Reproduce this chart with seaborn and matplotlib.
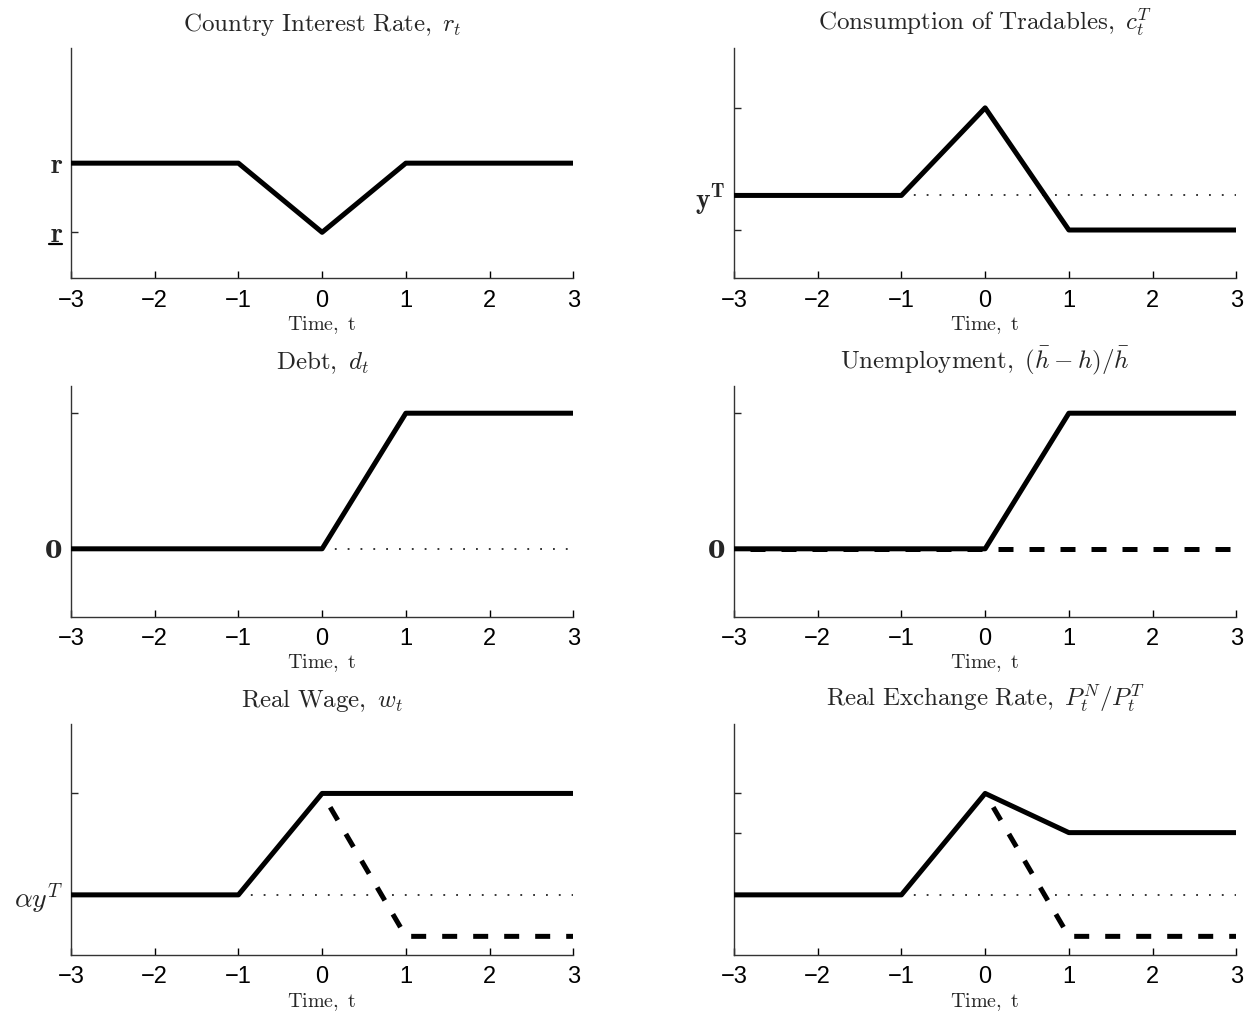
import matplotlib
matplotlib.use("Agg")
import matplotlib.pyplot as plt
import seaborn as sns

t = [-3, -2, -1, 0, 1, 2, 3]
t_adj = [0, 1, 2, 3]

interest = [1, 1, 1, 0.4, 1, 1, 1]
tradables = [0.36, 0.36, 0.36, 0.74, 0.21, 0.21, 0.21]
debt = [0, 0, 0, 0, 1, 1, 1]
unemp = [0, 0, 0, 0, 1, 1, 1]
unemp_flex = [0, 0, 0, 0, 0, 0, 0]
wage = [0.26, 0.26, 0.26, 0.70, 0.70, 0.70, 0.70]
wage_flex = [0.70, 0.08, 0.08, 0.08]
rer = [0.26, 0.26, 0.26, 0.70, 0.53, 0.53, 0.53]
rer_flex = [0.70, 0.08, 0.08, 0.08]

titles = [r"$\mathrm{Country\ Interest\ Rate,}$ $r_t$",
          r"$\mathrm{Consumption\ of\ Tradables,}$ $c_t^T$",
          r"$\mathrm{Debt,}$ $d_t$",
          r"$\mathrm{Unemployment,}$ $(\bar{h}-h)/\bar{h}$",
          r"$\mathrm{Real\ Wage,}$ $w_t$",
          r"$\mathrm{Real\ Exchange\ Rate,}$ $P_t^N/P_t^T$"]

sns.set_style("ticks")
plt.rcParams["font.family"] = ["Liberation Sans", "DejaVu Sans"]
plt.rcParams["mathtext.fontset"] = "cm"
plt.rcParams["xtick.direction"] = "in"
plt.rcParams["ytick.direction"] = "in"

fig, axes = plt.subplots(3, 2, figsize=(12.45, 10.19), dpi=100)
fig.subplots_adjust(left=0.057, right=0.993, top=0.953, bottom=0.063,
                    wspace=0.32, hspace=0.467)

LW = 3.6
DASH = (3, (3, 3.2))
DOT = (0, (1.2, 7.2))


def solid(ax, y):
    sns.lineplot(x=t, y=y, ax=ax, color="black", linewidth=LW, errorbar=None, zorder=3)


def dashed(ax, x, y):
    sns.lineplot(x=x, y=y, ax=ax, color="black", linewidth=LW, errorbar=None,
                 linestyle=DASH, zorder=4)


def dotted(ax, x0, level):
    sns.lineplot(x=[x0, 3], y=[level, level], ax=ax, color="black", linewidth=1.1,
                 errorbar=None, linestyle=DOT, zorder=2)


def style(ax, title, ylim, yticks, ylabels):
    ax.set_xlim(-3, 3)
    ax.set_ylim(*ylim)
    ax.set_xticks(t)
    ax.set_yticks(yticks)
    ax.set_yticklabels(ylabels)
    ax.tick_params(axis="x", labelsize=17, length=5, width=1, pad=8, colors="black")
    ax.tick_params(axis="y", labelsize=20, length=5, width=1, pad=6)
    for s in ["top", "right"]:
        ax.spines[s].set_visible(False)
    for s in ["left", "bottom"]:
        ax.spines[s].set_color("#333333")
        ax.spines[s].set_linewidth(1.0)
    ax.set_title(title, fontsize=18, pad=12.5)
    ax.set_xlabel(r"$\mathrm{Time,\ t}$", fontsize=14.5, labelpad=2)
    ax.set_ylabel("")


def bold_zero(ax):
    for lab in ax.get_yticklabels():
        if lab.get_text() == "0":
            lab.set_fontfamily("DejaVu Serif")
            lab.set_fontweight("bold")
            lab.set_fontsize(18)


a1, a2 = axes[0]
a3, a4 = axes[1]
a5, a6 = axes[2]

solid(a1, interest)
style(a1, titles[0], (0, 2), [0.4, 1], [r"$\mathbf{r}$", r"$\mathbf{r}$"])
a1.plot([-0.043, -0.017], [0.148, 0.148], transform=a1.transAxes,
        color="black", linewidth=1.6, clip_on=False)

dotted(a2, -1, tradables[0])
solid(a2, tradables)
style(a2, titles[1], (0, 1), [0.21, 0.36, 0.74], ["", r"$\mathbf{y^T}$", ""])

dotted(a3, 0, 0)
solid(a3, debt)
style(a3, titles[2], (-0.5, 1.2), [0, 1], ["0", ""])
bold_zero(a3)

solid(a4, unemp)
dashed(a4, t, unemp_flex)
style(a4, titles[3], (-0.5, 1.2), [0, 1], ["0", ""])
bold_zero(a4)

dotted(a5, -1, wage[0])
solid(a5, wage)
dashed(a5, t_adj, wage_flex)
style(a5, titles[4], (0, 1), [0.26, 0.70], [r"$\alpha y^T$", ""])

dotted(a6, -1, rer[0])
solid(a6, rer)
dashed(a6, t_adj, rer_flex)
style(a6, titles[5], (0, 1), [0.53, 0.70], ["", ""])

fig.savefig("out.png", dpi=100)
